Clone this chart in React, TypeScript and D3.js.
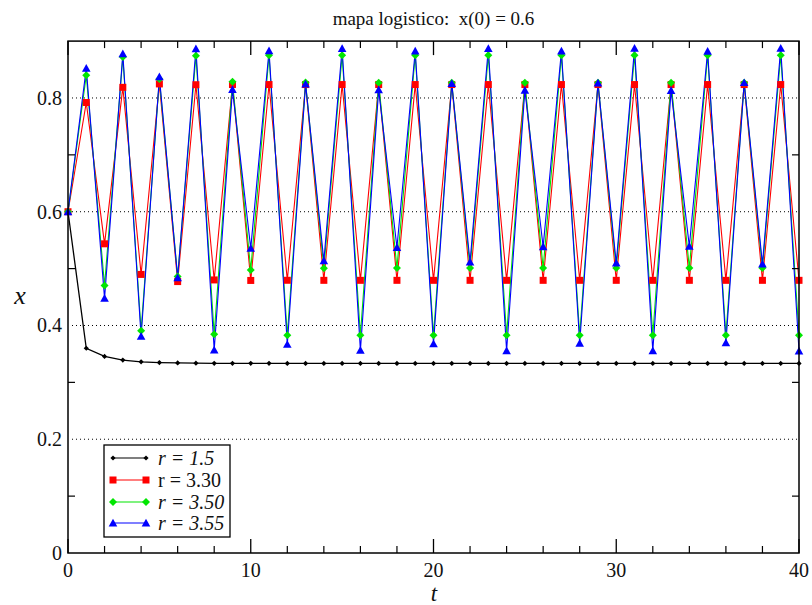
import React from "react";
import * as d3 from "d3";

const tValues: number[] = d3.range(0, 41);

const r15: number[] = [0.6, 0.36, 0.3456, 0.3392, 0.3362, 0.3348, 0.3341, 0.3337, 0.3335, 0.3334, 0.3334,
  0.3334, 0.3333, 0.3333, 0.3333, 0.3333, 0.3333, 0.3333, 0.3333, 0.3333, 0.3333,
  0.3333, 0.3333, 0.3333, 0.3333, 0.3333, 0.3333, 0.3333, 0.3333, 0.3333, 0.3333,
  0.3333, 0.3333, 0.3333, 0.3333, 0.3333, 0.3333, 0.3333, 0.3333, 0.3333, 0.3333];

const r330: number[] = [0.6, 0.792, 0.5436, 0.8187, 0.4898, 0.8247, 0.4772, 0.8233, 0.4801, 0.8237, 0.4792,
  0.8236, 0.4795, 0.8236, 0.4794, 0.8236, 0.4794, 0.8236, 0.4794, 0.8236, 0.4794,
  0.8236, 0.4794, 0.8236, 0.4794, 0.8236, 0.4794, 0.8236, 0.4794, 0.8236, 0.4794,
  0.8236, 0.4794, 0.8236, 0.4794, 0.8236, 0.4794, 0.8236, 0.4794, 0.8236, 0.4794];

const r350: number[] = [0.6, 0.84, 0.4704, 0.8719, 0.3908, 0.8333, 0.4862, 0.8743, 0.3846, 0.8284, 0.4977,
  0.875, 0.3829, 0.827, 0.5008, 0.875, 0.3828, 0.8269, 0.5009, 0.875, 0.3828,
  0.8269, 0.5009, 0.875, 0.3828, 0.8269, 0.5009, 0.875, 0.3828, 0.8269, 0.5009,
  0.875, 0.3828, 0.8269, 0.5009, 0.875, 0.3828, 0.8269, 0.5009, 0.875, 0.3828];

const r355: number[] = [0.6, 0.852, 0.4476, 0.8778, 0.3809, 0.8371, 0.484, 0.8866, 0.357, 0.8149, 0.5356,
  0.883, 0.3667, 0.8245, 0.5138, 0.8868, 0.3563, 0.8142, 0.5371, 0.8826, 0.3678,
  0.8255, 0.5115, 0.887, 0.3557, 0.8136, 0.5383, 0.8823, 0.3687, 0.8263, 0.5096,
  0.8872, 0.3554, 0.8132, 0.5392, 0.882, 0.3694, 0.8269, 0.5081, 0.8873, 0.3551];

const xMajorTicks: number[] = [0, 10, 20, 30, 40];
const xMinorTicks: number[] = [2, 4, 6, 8, 12, 14, 16, 18, 22, 24, 26, 28, 32, 34, 36, 38];
const yLabelTicks: number[] = [0, 0.2, 0.4, 0.6, 0.8];
const yGridTicks: number[] = [0.2, 0.4, 0.6, 0.8];
const yMinorTicks: number[] = [0.1, 0.3, 0.5, 0.7];

const seriesNames: string[] = ["r = 1.5", "r = 3.30", "r = 3.50", "r = 3.55"];
const seriesItalic: boolean[] = [true, false, true, true];
const seriesColors: string[] = ["#000000", "#ff0000", "#00e600", "#0000ff"];
const seriesMarkers: string[] = ["smalldiamond", "square", "diamond", "triangle"];
const seriesData: number[][] = [r15, r330, r350, r355];

const FONT = "Liberation Serif, DejaVu Serif, Times, serif";

function Marker({ kind, x, y, color }: { kind: string; x: number; y: number; color: string }) {
  if (kind === "square") {
    return <rect x={x - 3.5} y={y - 3.5} width={7} height={7} fill={color} />;
  }
  if (kind === "diamond") {
    const s = 4;
    return <path d={`M${x},${y - s}L${x + s},${y}L${x},${y + s}L${x - s},${y}Z`} fill={color} />;
  }
  if (kind === "smalldiamond") {
    const s = 2.6;
    return <path d={`M${x},${y - s}L${x + s},${y}L${x},${y + s}L${x - s},${y}Z`} fill={color} />;
  }
  const s = 4.3;
  return <path d={`M${x},${y - s}L${x + s},${y + s * 0.8}L${x - s},${y + s * 0.8}Z`} fill={color} />;
}

export default function App() {
  const W = 812, H = 605;
  const x = d3.scaleLinear().domain([0, 40]).range([68, 799]);
  const y = d3.scaleLinear().domain([0, 0.9]).range([553, 41.1]);
  const line = d3.line<number>().x((_, i) => x(tValues[i])).y((d) => y(d));
  const top = y(0.9), bottom = y(0), left = x(0), right = x(40);

  const legendX = 104, legendY = 445, legendW = 126, legendH = 92;
  const rowY = [458, 480, 502, 523];

  return (
    <svg width={W} height={H} style={{ position: "absolute", left: 0, top: 0, background: "#fff", fontFamily: FONT }}>
      <rect x={0} y={0} width={W} height={H} fill="#fff" />
      <text x={-7} y={81} fontSize={20} fill="#222" style={{ fontFamily: FONT }}>)</text>
      <text x={(left + right) / 2} y={25} textAnchor="middle" fontSize={19} fill="#111" style={{ whiteSpace: "pre", fontFamily: FONT }}>
        {"mapa logistico:  x(0) = 0.6"}
      </text>

      {yGridTicks.map((v) => (
        <line key={"g" + v} x1={left + 4} x2={right} y1={y(v)} y2={y(v)} stroke="#000" strokeWidth={1} strokeDasharray="1,3" />
      ))}

      {seriesData.map((data, si) => (
        <path key={"l" + si} d={line(data) || ""} fill="none" stroke={seriesColors[si]} strokeWidth={si === 0 ? 1.3 : 1.1} />
      ))}
      {seriesData.map((data, si) => (
        <g key={"m" + si}>
          {data.map((v, i) => (
            <Marker key={i} kind={seriesMarkers[si]} x={x(tValues[i])} y={y(v)} color={seriesColors[si]} />
          ))}
        </g>
      ))}

      <rect x={left} y={top} width={right - left} height={bottom - top} fill="none" stroke="#000" strokeWidth={1.5} />

      {xMajorTicks.map((v) => (
        <g key={"xM" + v}>
          <line x1={x(v)} x2={x(v)} y1={bottom} y2={bottom - 14} stroke="#000" strokeWidth={1.3} />
          <line x1={x(v)} x2={x(v)} y1={top} y2={top + 14} stroke="#000" strokeWidth={1.3} />
          <text x={x(v)} y={577} textAnchor="middle" fontSize={20} fill="#111" style={{ fontFamily: FONT }}>{v}</text>
        </g>
      ))}
      {xMinorTicks.map((v) => (
        <g key={"xm" + v}>
          <line x1={x(v)} x2={x(v)} y1={bottom} y2={bottom - 7} stroke="#000" strokeWidth={1.2} />
          <line x1={x(v)} x2={x(v)} y1={top} y2={top + 7} stroke="#000" strokeWidth={1.2} />
        </g>
      ))}
      {yMinorTicks.map((v) => (
        <g key={"ym" + v}>
          <line x1={left} x2={left + 7} y1={y(v)} y2={y(v)} stroke="#000" strokeWidth={1.2} />
          <line x1={right} x2={right - 7} y1={y(v)} y2={y(v)} stroke="#000" strokeWidth={1.2} />
        </g>
      ))}
      {yLabelTicks.map((v) => (
        <text key={"yl" + v} x={62} y={y(v) + 7} textAnchor="end" fontSize={20} fill="#111" style={{ fontFamily: FONT }}>
          {v === 0 ? "0" : d3.format(".1f")(v)}
        </text>
      ))}

      <text x={20} y={304} textAnchor="middle" fontSize={26} fontStyle="italic" fill="#111" style={{ fontFamily: FONT }}>x</text>
      <text x={434} y={601} textAnchor="middle" fontSize={23} fontStyle="italic" fill="#111" style={{ fontFamily: FONT }}>t</text>

      <rect x={legendX} y={legendY} width={legendW} height={legendH} fill="#fff" stroke="#000" strokeWidth={1.3} />
      {seriesNames.map((name, si) => (
        <g key={"lg" + si}>
          <line x1={113} x2={146} y1={rowY[si]} y2={rowY[si]} stroke={seriesColors[si]} strokeWidth={1.1} />
          <Marker kind={seriesMarkers[si]} x={113} y={rowY[si]} color={seriesColors[si]} />
          <Marker kind={seriesMarkers[si]} x={146} y={rowY[si]} color={seriesColors[si]} />
          <text x={158} y={rowY[si] + 7} fontSize={20} fontStyle={seriesItalic[si] ? "italic" : "normal"} fill="#111" style={{ whiteSpace: "pre", fontFamily: FONT }}>
            {name}
          </text>
        </g>
      ))}
    </svg>
  );
}
